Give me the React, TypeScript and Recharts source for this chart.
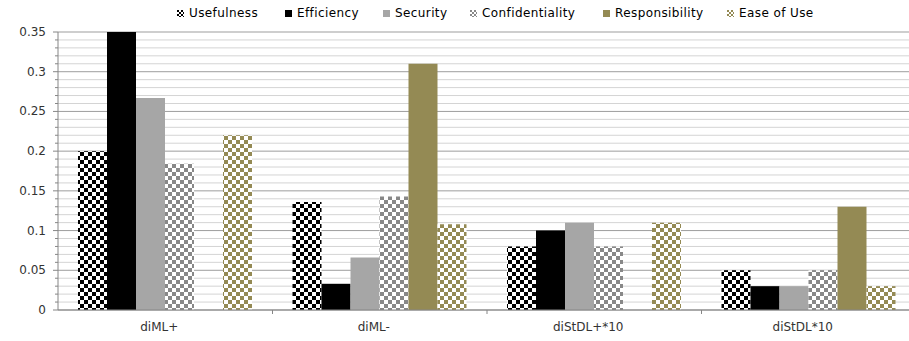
import React from 'react';
import { BarChart, Bar, XAxis, YAxis, CartesianGrid } from 'recharts';

const categories = ['diML+', 'diML-', 'diStDL+*10', 'diStDL*10'];
const seriesNames = ['Usefulness', 'Efficiency', 'Security', 'Confidentiality', 'Responsibility', 'Ease of Use'];

const usefulness = [0.2, 0.136, 0.08, 0.05];
const efficiency = [0.35, 0.033, 0.1, 0.03];
const security = [0.267, 0.066, 0.11, 0.03];
const confidentiality = [0.184, 0.143, 0.08, 0.05];
const responsibility = [0, 0.31, 0, 0.13];
const easeOfUse = [0.22, 0.108, 0.11, 0.03];

const yTicks = Array.from({ length: 36 }, (_, i) => i / 100);

const data = categories.map((name, i) => ({
    name,
    usefulness: usefulness[i],
    efficiency: efficiency[i],
    security: security[i],
    confidentiality: confidentiality[i],
    responsibility: responsibility[i],
    easeOfUse: easeOfUse[i],
}));

// legend item widths so the entries sit where the original puts them
const series = [
    { key: 'usefulness', fill: 'url(#chkBlack)', swatch: 'chkBlack', w: 108 },
    { key: 'efficiency', fill: '#000000', swatch: '#000000', w: 98 },
    { key: 'security', fill: '#a6a6a6', swatch: '#a6a6a6', w: 87 },
    { key: 'confidentiality', fill: 'url(#chkGray)', swatch: 'chkGray', w: 133 },
    { key: 'responsibility', fill: '#948a54', swatch: '#948a54', w: 124 },
    { key: 'easeOfUse', fill: 'url(#chkOlive)', swatch: 'chkOlive', w: 90 },
];

const FONT = '"DejaVu Sans", Verdana, sans-serif';

const Checker = ({ id, color }: { id: string; color: string }) => (
    <pattern id={id} width={8} height={8} patternUnits="userSpaceOnUse">
        <rect width={8} height={8} fill="#ffffff" />
        <rect x={0} y={0} width={4} height={4} fill={color} />
        <rect x={4} y={4} width={4} height={4} fill={color} />
    </pattern>
);

const YTick = (props: any) => {
    const { x, y, payload } = props;
    const v = Math.round(payload.value * 100);
    const major = v % 5 === 0;
    const axisX = x + 12;
    return (
        <g>
            <line x1={axisX - (major ? 5 : 3)} x2={axisX} y1={y} y2={y} stroke="#868686" />
            {major && (
                <text x={x} y={y} dy={4} textAnchor="end" fill="#333" fontSize={12} fontFamily={FONT}>
                    {String(v / 100)}
                </text>
            )}
        </g>
    );
};

const XTick = (props: any) => {
    const { x, y, payload, index } = props;
    const half = payload.offset || 0;
    return (
        <g>
            {index > 0 && <line x1={x - half} x2={x - half} y1={y - 8} y2={y - 4} stroke="#868686" />}
            <text x={x - 6} y={y + 13} textAnchor="middle" fill="#333" fontSize={12} fontFamily={FONT}>
                {payload.value}
            </text>
        </g>
    );
};

const gridLine = (props: any) => {
    const major = props.index % 5 === 0;
    return (
        <line
            key={props.key}
            x1={props.x1}
            x2={props.x2}
            y1={props.y1}
            y2={props.y2}
            stroke={major ? '#9d9d9d' : '#d4d4d4'}
            strokeWidth={1}
        />
    );
};

const Swatch = ({ s }: { s: { swatch: string } }) => (
    <svg width={7} height={7} style={{ marginRight: 5 }}>
        <defs>
            <pattern id={'lg' + s.swatch} width={4} height={4} patternUnits="userSpaceOnUse">
                <rect width={4} height={4} fill="#ffffff" />
                <rect width={2} height={2} fill={s.swatch === 'chkBlack' ? '#000' : s.swatch === 'chkGray' ? '#888' : '#948a54'} />
                <rect x={2} y={2} width={2} height={2} fill={s.swatch === 'chkBlack' ? '#000' : s.swatch === 'chkGray' ? '#888' : '#948a54'} />
            </pattern>
        </defs>
        <rect width={7} height={7} fill={s.swatch.startsWith('#') ? s.swatch : `url(#lg${s.swatch})`} />
    </svg>
);

export default function App() {
    return (
        <div style={{ position: 'absolute', left: 0, top: 0, width: 909, height: 341, overflow: 'hidden', background: '#fff' }}>
            <BarChart
                width={918}
                height={341}
                data={data}
                margin={{ top: 32, right: 2, bottom: 0, left: 0 }}
                barCategoryGap={20}
                barGap={0}
            >
                <defs>
                    <Checker id="chkBlack" color="#000000" />
                    <Checker id="chkGray" color="#888888" />
                    <Checker id="chkOlive" color="#948a54" />
                </defs>
                <CartesianGrid vertical={false} horizontal={gridLine} />
                <XAxis
                    dataKey="name"
                    height={31}
                    axisLine={{ stroke: '#868686' }}
                    tickLine={false}
                    tick={<XTick />}
                    interval={0}
                />
                <YAxis
                    width={58}
                    domain={[0, 0.35]}
                    ticks={yTicks}
                    interval={0}
                    axisLine={{ stroke: '#868686' }}
                    tickLine={false}
                    tickSize={5}
                    tickMargin={7}
                    tick={<YTick />}
                />
                {series.map((s) => (
                    <Bar key={s.key} dataKey={s.key} fill={s.fill} isAnimationActive={false} />
                ))}
            </BarChart>
            <div
                style={{
                    position: 'absolute',
                    top: 6,
                    left: 177,
                    display: 'flex',
                    alignItems: 'center',
                    fontFamily: FONT,
                    fontSize: 12,
                    letterSpacing: 0.4,
                    color: '#000',
                    whiteSpace: 'nowrap',
                }}
            >
                {series.map((s, i) => (
                    <div key={s.key} style={{ display: 'flex', alignItems: 'center', width: s.w }}>
                        <Swatch s={s} />
                        <span>{seriesNames[i]}</span>
                    </div>
                ))}
            </div>
        </div>
    );
}
